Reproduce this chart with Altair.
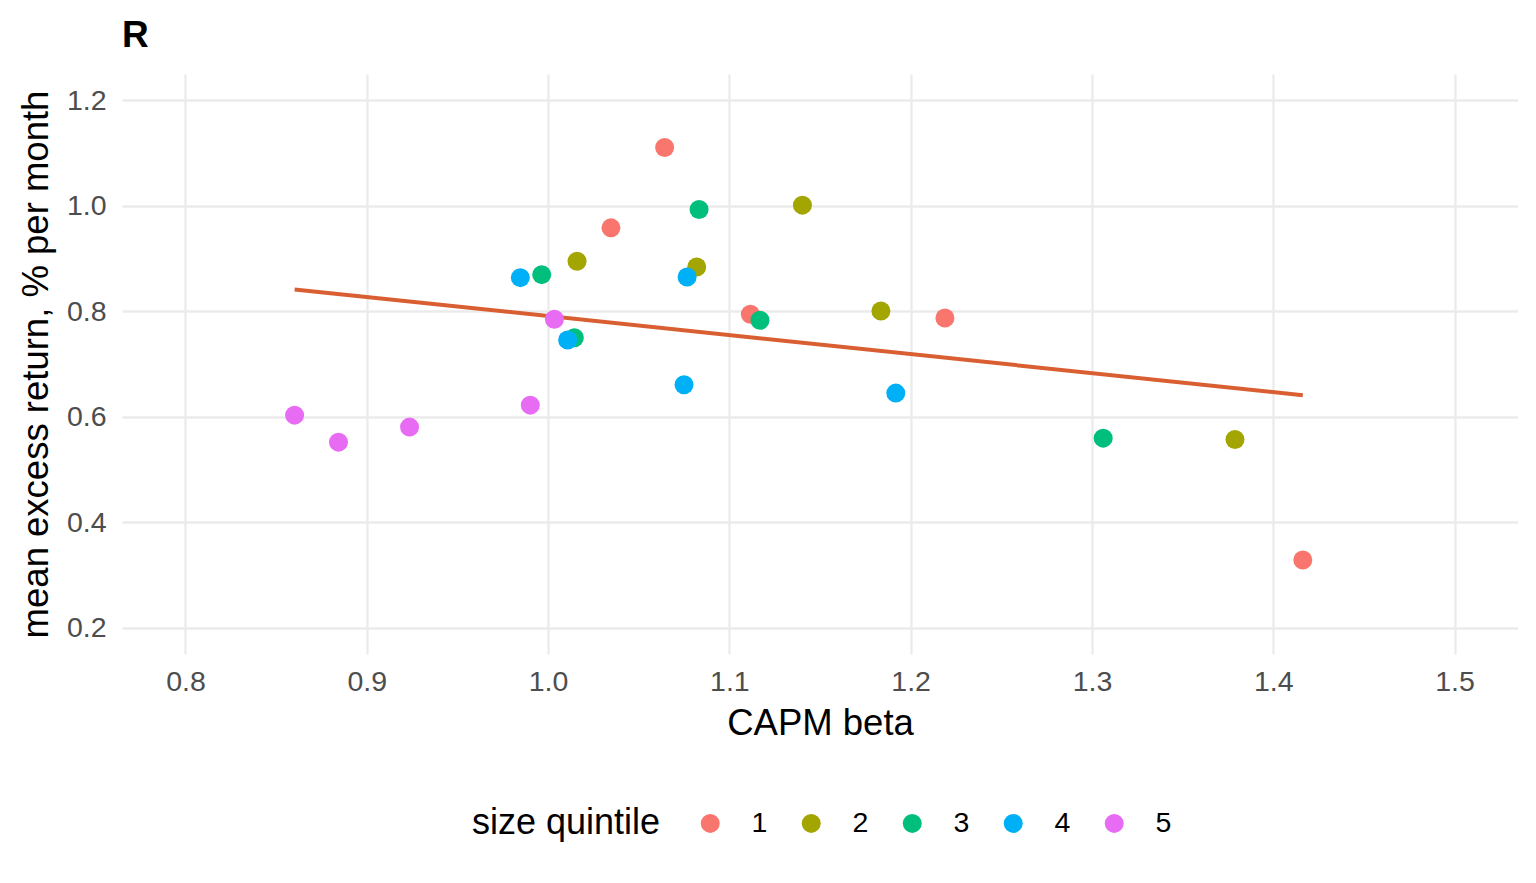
import altair as alt
import pandas as pd

# CAPM beta and mean excess return for the 25 portfolios, by size quintile
quintile = [1] * 5 + [2] * 5 + [3] * 5 + [4] * 5 + [5] * 5
beta = [
    1.0643, 1.0347, 1.1116, 1.2189, 1.4163,
    1.0160, 1.0820, 1.1403, 1.1836, 1.3789,
    0.9965, 1.0833, 1.0145, 1.1169, 1.3062,
    0.9847, 1.0767, 1.0108, 1.0750, 1.1918,
    0.8602, 0.8844, 0.9236, 0.9902, 1.0035,
]
mean_ret = [
    1.1107, 0.9582, 0.7943, 0.7873, 0.3282,
    0.8950, 0.8841, 1.0013, 0.8006, 0.5569,
    0.8695, 0.9930, 0.7499, 0.7829, 0.5594,
    0.8638, 0.8651, 0.7455, 0.6606, 0.6448,
    0.6030, 0.5518, 0.5803, 0.6220, 0.7848,
]

x_ticks = [0.8, 0.9, 1.0, 1.1, 1.2, 1.3, 1.4, 1.5]
y_ticks = [0.2, 0.4, 0.6, 0.8, 1.0, 1.2]
palette = ["#F8766D", "#A3A500", "#00BF7D", "#00B0F6", "#E76BF3"]

df = pd.DataFrame({"beta": beta, "ret": mean_ret, "q": [str(v) for v in quintile]})

FONT = "Liberation Sans"

x_enc = alt.X(
    "beta:Q",
    scale=alt.Scale(domain=[0.765, 1.535], nice=False, zero=False),
    axis=alt.Axis(
        values=x_ticks, format=".1f", title="CAPM beta",
        titleX=698, titleY=80, titleBaseline="alphabetic", titleAnchor="middle",
    ),
)
y_enc = alt.Y(
    "ret:Q",
    scale=alt.Scale(domain=[0.15, 1.25], nice=False, zero=False),
    axis=alt.Axis(
        values=y_ticks, format=".1f", title="mean excess return, % per month",
        titleX=-75, titleY=290, titleBaseline="alphabetic", titleAngle=-90,
        titleAlign="center",
    ),
)

line = alt.Chart(df).transform_regression("beta", "ret").mark_line(
    color="#D95F32", strokeWidth=4
).encode(x=x_enc, y=y_enc)

points = alt.Chart(df).mark_circle(size=361, opacity=1).encode(
    x=x_enc,
    y=y_enc,
    color=alt.Color(
        "q:N",
        scale=alt.Scale(domain=["1", "2", "3", "4", "5"], range=palette),
        legend=alt.Legend(
            title="size quintile", orient="none", legendX=350, legendY=735,
            direction="horizontal", titleOrient="left",
        ),
    ),
)

chart = (line + points).properties(
    width=1396,
    height=580,
    autosize="none",
    padding={"left": 114, "top": 66, "right": 0, "bottom": 200},
    title=alt.TitleParams(
        "R", anchor="start", frame="group", font=FONT, fontSize=37,
        fontWeight="bold", color="black", baseline="top", offset=19,
    ),
).configure_view(
    stroke=None
).configure_axis(
    domain=False, ticks=False, grid=True, gridColor="#EBEBEB", gridWidth=2.3,
    labelFont=FONT, labelFontSize=28.5, labelColor="#4D4D4D",
    titleFont=FONT, titleFontSize=36.5, titleColor="black", titleFontWeight="normal",
).configure_axisX(
    labelPadding=13
).configure_axisY(
    labelPadding=16
).configure_legend(
    titleFont=FONT, titleFontSize=36, titleColor="black", titleFontWeight="normal",
    titleLimit=500, labelLimit=200,
    labelFont=FONT, labelFontSize=28.5, labelColor="black",
    symbolSize=361, symbolType="circle", symbolStrokeWidth=0,
    labelOffset=27, columnPadding=29, titlePadding=35, padding=0,
)

chart.save("out.html", embed_options={"renderer": "svg", "actions": False})
